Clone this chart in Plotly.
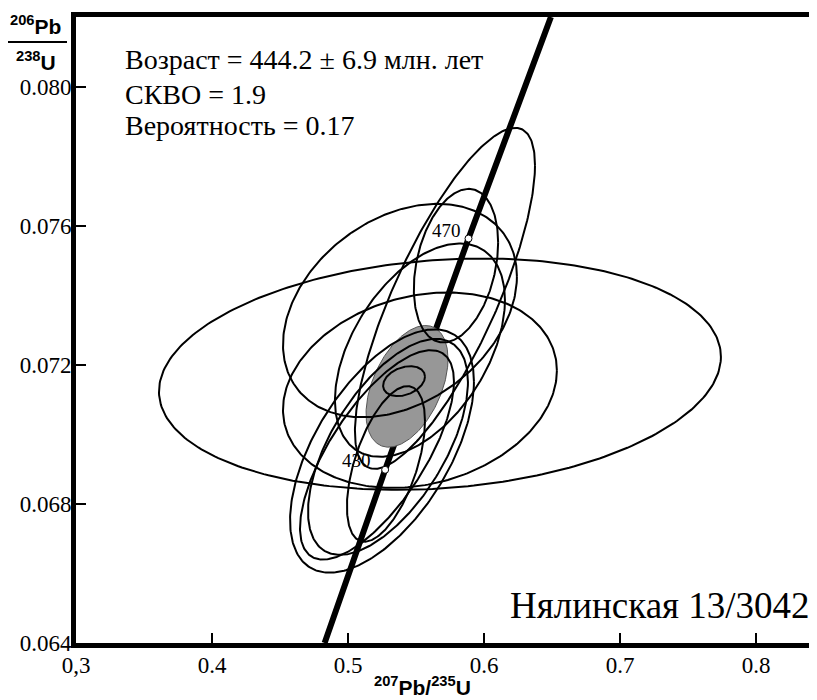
import numpy as np
import plotly.graph_objects as go

# ---- data ----
# error ellipses: centre, half-extent in x and y, correlation
ell_cx  = [0.5676, 0.5713, 0.5794, 0.5382, 0.5529, 0.5529, 0.5250, 0.5213, 0.5279, 0.5412, 0.5294]
ell_cy  = [0.07173, 0.07391, 0.07485, 0.07356, 0.07127, 0.07242, 0.06952, 0.06941, 0.06915, 0.07153, 0.06964]
ell_sx  = [0.2066, 0.0662, 0.0310, 0.0860, 0.1007, 0.0625, 0.0676, 0.0566, 0.0287, 0.0154, 0.0588]
ell_sy  = [0.003326, 0.004903, 0.002208, 0.003068, 0.002810, 0.003068, 0.003498, 0.003011, 0.002237, 0.00043, 0.003105]
ell_rho = [0.15, 0.78, 0.30, 0.32, 0.20, 0.47, 0.57, 0.70, 0.55, 0.30, 0.60]

# weighted mean (concordia age) ellipse
mean_cx, mean_cy, mean_sx, mean_sy, mean_rho = 0.5434, 0.07138, 0.03015, 0.001749, 0.45

# concordia curve points
conc_x = [0.4828, 0.5273, 0.5886, 0.6492]
conc_y = [0.0640, 0.06898, 0.07563, 0.0820]

# age marks on concordia
age_labels = ["430", "470"]
age_x = [0.5273, 0.5886]
age_y = [0.06898, 0.07563]

# axes
x_ticks = [0.3, 0.4, 0.5, 0.6, 0.7, 0.8]
x_ticktext = ["0,3", "0.4", "0.5", "0.6", "0.7", "0.8"]
y_ticks = [0.064, 0.068, 0.072, 0.076, 0.080]
y_ticktext = ["0.064", "0.068", "0.072", "0.076", "0.080"]

stats_lines = ["Возраст = 444.2 ± 6.9 млн. лет", "СКВО = 1.9", "Вероятность = 0.17"]
sample_name = "Нялинская 13/3042"

SERIF = "Liberation Serif, Times New Roman, serif"
SANS = "Liberation Sans, Arial, sans-serif"

# page body keeps an 8px margin; the plot area is placed so it sits at
# x 76..817, y 17..643 in the window
OFF = 8
PL, PT, PW, PH = 76, 17, 741, 626


def px_x(px):
    return (px - PL) / PW


def px_y(py):
    return (PT + PH - py) / PH


def ellipse(cx, cy, sx, sy, rho, n=300):
    t = np.linspace(0, 2 * np.pi, n)
    x = cx + sx * np.cos(t)
    y = cy + sy * (rho * np.cos(t) + np.sqrt(1 - rho ** 2) * np.sin(t))
    return x, y


fig = go.Figure()

# concordia
fig.add_trace(go.Scatter(x=conc_x, y=conc_y, mode="lines",
                         line=dict(color="black", width=6), hoverinfo="skip"))

# mean ellipse (grey filled)
mx, my = ellipse(mean_cx, mean_cy, mean_sx, mean_sy, mean_rho)
fig.add_trace(go.Scatter(x=mx, y=my, mode="lines", fill="toself",
                         fillcolor="#979797", line=dict(color="#555555", width=1),
                         hoverinfo="skip"))

# individual ellipses
for cx, cy, sx, sy, r in zip(ell_cx, ell_cy, ell_sx, ell_sy, ell_rho):
    ex, ey = ellipse(cx, cy, sx, sy, r)
    fig.add_trace(go.Scatter(x=ex, y=ey, mode="lines",
                             line=dict(color="black", width=2), hoverinfo="skip"))

# age marks
fig.add_trace(go.Scatter(x=age_x, y=age_y, mode="markers",
                         marker=dict(size=7, color="white", line=dict(color="black", width=1)),
                         hoverinfo="skip"))

annotations = []
label_shift = {"430": (-12, 9), "470": (-6, 8)}
for lab, ax_, ay_ in zip(age_labels, age_x, age_y):
    xs, ys = label_shift[lab]
    annotations.append(dict(x=ax_, y=ay_, xref="x", yref="y", text=lab, showarrow=False,
                            xanchor="right", yanchor="middle", xshift=xs, yshift=ys,
                            font=dict(family=SERIF, size=19, color="black")))

stat_py = [60, 95, 126]
for txt, py in zip(stats_lines, stat_py):
    annotations.append(dict(x=px_x(123), y=px_y(py), xref="paper", yref="paper", text=txt,
                            showarrow=False, xanchor="left", yanchor="middle",
                            font=dict(family=SERIF, size=28, color="black")))

annotations.append(dict(x=px_x(812), y=px_y(605), xref="paper", yref="paper", text=sample_name,
                        showarrow=False, xanchor="right", yanchor="middle",
                        font=dict(family=SERIF, size=37, color="black")))

# x axis title
annotations.append(dict(x=px_x(422), y=px_y(686), xref="paper", yref="paper",
                        text="<b><sup>207</sup>Pb/<sup>235</sup>U</b>", showarrow=False,
                        xanchor="center", yanchor="middle",
                        font=dict(family=SANS, size=21, color="black")))
# y axis title (fraction)
annotations.append(dict(x=px_x(35), y=px_y(25), xref="paper", yref="paper",
                        text="<b><sup>206</sup>Pb</b>", showarrow=False,
                        xanchor="center", yanchor="middle",
                        font=dict(family=SANS, size=21, color="black")))
annotations.append(dict(x=px_x(36), y=px_y(61), xref="paper", yref="paper",
                        text="<b><sup>238</sup>U</b>", showarrow=False,
                        xanchor="center", yanchor="middle",
                        font=dict(family=SANS, size=21, color="black")))

shapes = [dict(type="line", xref="paper", yref="paper",
               x0=px_x(5), x1=px_x(67), y0=px_y(42), y1=px_y(42),
               line=dict(color="black", width=2))]

fig.update_layout(
    width=817 - OFF, height=700 - OFF,
    margin=dict(l=PL - OFF, r=0, t=PT - OFF, b=700 - (PT + PH)),
    paper_bgcolor="white", plot_bgcolor="white",
    showlegend=False,
    annotations=annotations,
    shapes=shapes,
    xaxis=dict(range=[0.3, 0.3 + 741 / 1360], tickvals=x_ticks, ticktext=x_ticktext,
               ticks="inside", ticklen=10, tickwidth=2, tickcolor="black",
               showline=True, linewidth=5, linecolor="black", mirror=True,
               showgrid=False, zeroline=False, automargin=False,
               ticklabelstandoff=-3,
               tickfont=dict(family=SERIF, size=23, color="black")),
    yaxis=dict(range=[0.064, 0.082], tickvals=y_ticks, ticktext=y_ticktext,
               ticks="inside", ticklen=10, tickwidth=2, tickcolor="black",
               showline=True, linewidth=5, linecolor="black",
               showgrid=False, zeroline=False, automargin=False,
               ticklabelstandoff=-5,
               tickfont=dict(family=SERIF, size=23, color="black")),
)

fig.write_html("out.html")
